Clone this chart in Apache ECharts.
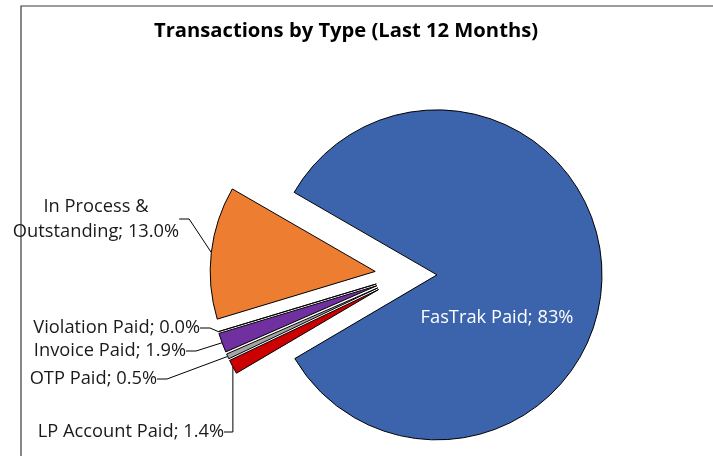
<!DOCTYPE html>
<html>
<head>
<meta charset="utf-8">
<script src="https://cdn.jsdelivr.net/npm/echarts@6/dist/echarts.min.js"></script>
<style>
  html, body { margin: 0; padding: 0; background: #fff; }
  #chart { width: 713px; height: 456px; }
</style>
</head>
<body>
<div id="chart"></div>
<script>
// data, in clockwise order from the first slice
var categories = ['FasTrak Paid', 'LP Account Paid', 'OTP Paid', 'Invoice Paid', 'Violation Paid', 'In Process &\nOutstanding'];
var shares = [83.2, 1.4, 0.5, 1.9, 0.0, 13.0];
var decimals = [0, 1, 1, 1, 1, 1];

// styling / label placement (kept apart from the data)
var colors = ['#3B64AD', '#CC0000', '#A5A5A5', '#7030A0', '#A5A5A5', '#ED7D31'];
var labelSpots = [
    { x: 497, y: 318, align: 'center' },
    { x: 224, y: 432, align: 'right' },
    { x: 157, y: 379, align: 'right' },
    { x: 186, y: 351, align: 'right' },
    { x: 200, y: 328, align: 'right' },
    { x: 96, y: 219, align: 'center' }
];
var pieCenter = [406, 275];
var pieRadius = 165;
var startAngle = 150;
var explode = 31;

var chart = echarts.init(document.getElementById('chart'));

var total = shares.reduce(function (a, b) { return a + b; }, 0);

/**
 * desc: 每个扇区一个系列，其它扇区透明，用中心偏移做"分离"效果
 */
function sliceSeries(idx) {
    var before = 0;
    for (var i = 0; i < idx; i++) before += shares[i];
    var mid = (startAngle - (before + shares[idx] / 2) / total * 360) * Math.PI / 180;
    var cx = pieCenter[0] + Math.cos(mid) * explode;
    var cy = pieCenter[1] - Math.sin(mid) * explode;

    var data = categories.map(function (name, i) {
        if (i !== idx) {
            return {
                name: name,
                value: shares[i],
                itemStyle: { color: 'transparent', borderWidth: 0 },
                label: { show: false },
                labelLine: { show: false }
            };
        }
        return {
            name: name,
            value: shares[i],
            itemStyle: { color: colors[i] },
            label: i === 0 ? { color: '#fff' } : {},
            labelLine: { show: i !== 0 }
        };
    });

    return {
        type: 'pie',
        center: [cx, cy],
        radius: pieRadius,
        startAngle: startAngle,
        clockwise: true,
        silent: true,
        avoidLabelOverlap: false,
        itemStyle: { borderColor: '#000', borderWidth: 1 },
        label: {
            show: true,
            position: 'outside',
            fontFamily: 'Open Sans',
            fontSize: 18.3,
            color: '#1a1a1a',
            lineHeight: 25,
            formatter: function (p) {
                return p.name + '; ' + p.value.toFixed(decimals[p.dataIndex]) + '%';
            }
        },
        labelLine: {
            length: 10,
            length2: 10,
            lineStyle: { color: '#000', width: 1 }
        },
        labelLayout: function (p) {
            if (p.dataIndex !== idx) return {};
            var s = labelSpots[p.dataIndex];
            return { x: s.x, y: s.y, align: s.align, verticalAlign: 'middle' };
        },
        data: data
    };
}

var series = [];
for (var k = 0; k < categories.length; k++) series.push(sliceSeries(k));

var option = {
    animation: false,
    title: {
        text: 'Transactions by Type (Last 12 Months)',
        left: 149,
        top: 16,
        textStyle: { fontFamily: 'Open Sans', fontSize: 20.2, fontWeight: 'bold', color: '#000' }
    },
    graphic: [{
        type: 'rect',
        shape: { x: 21, y: 6, width: 1000, height: 1000 },
        style: { fill: 'none', stroke: '#3a3a3a', lineWidth: 1.2 },
        silent: true
    }],
    series: series
};

chart.setOption(option);
</script>
</body>
</html>
